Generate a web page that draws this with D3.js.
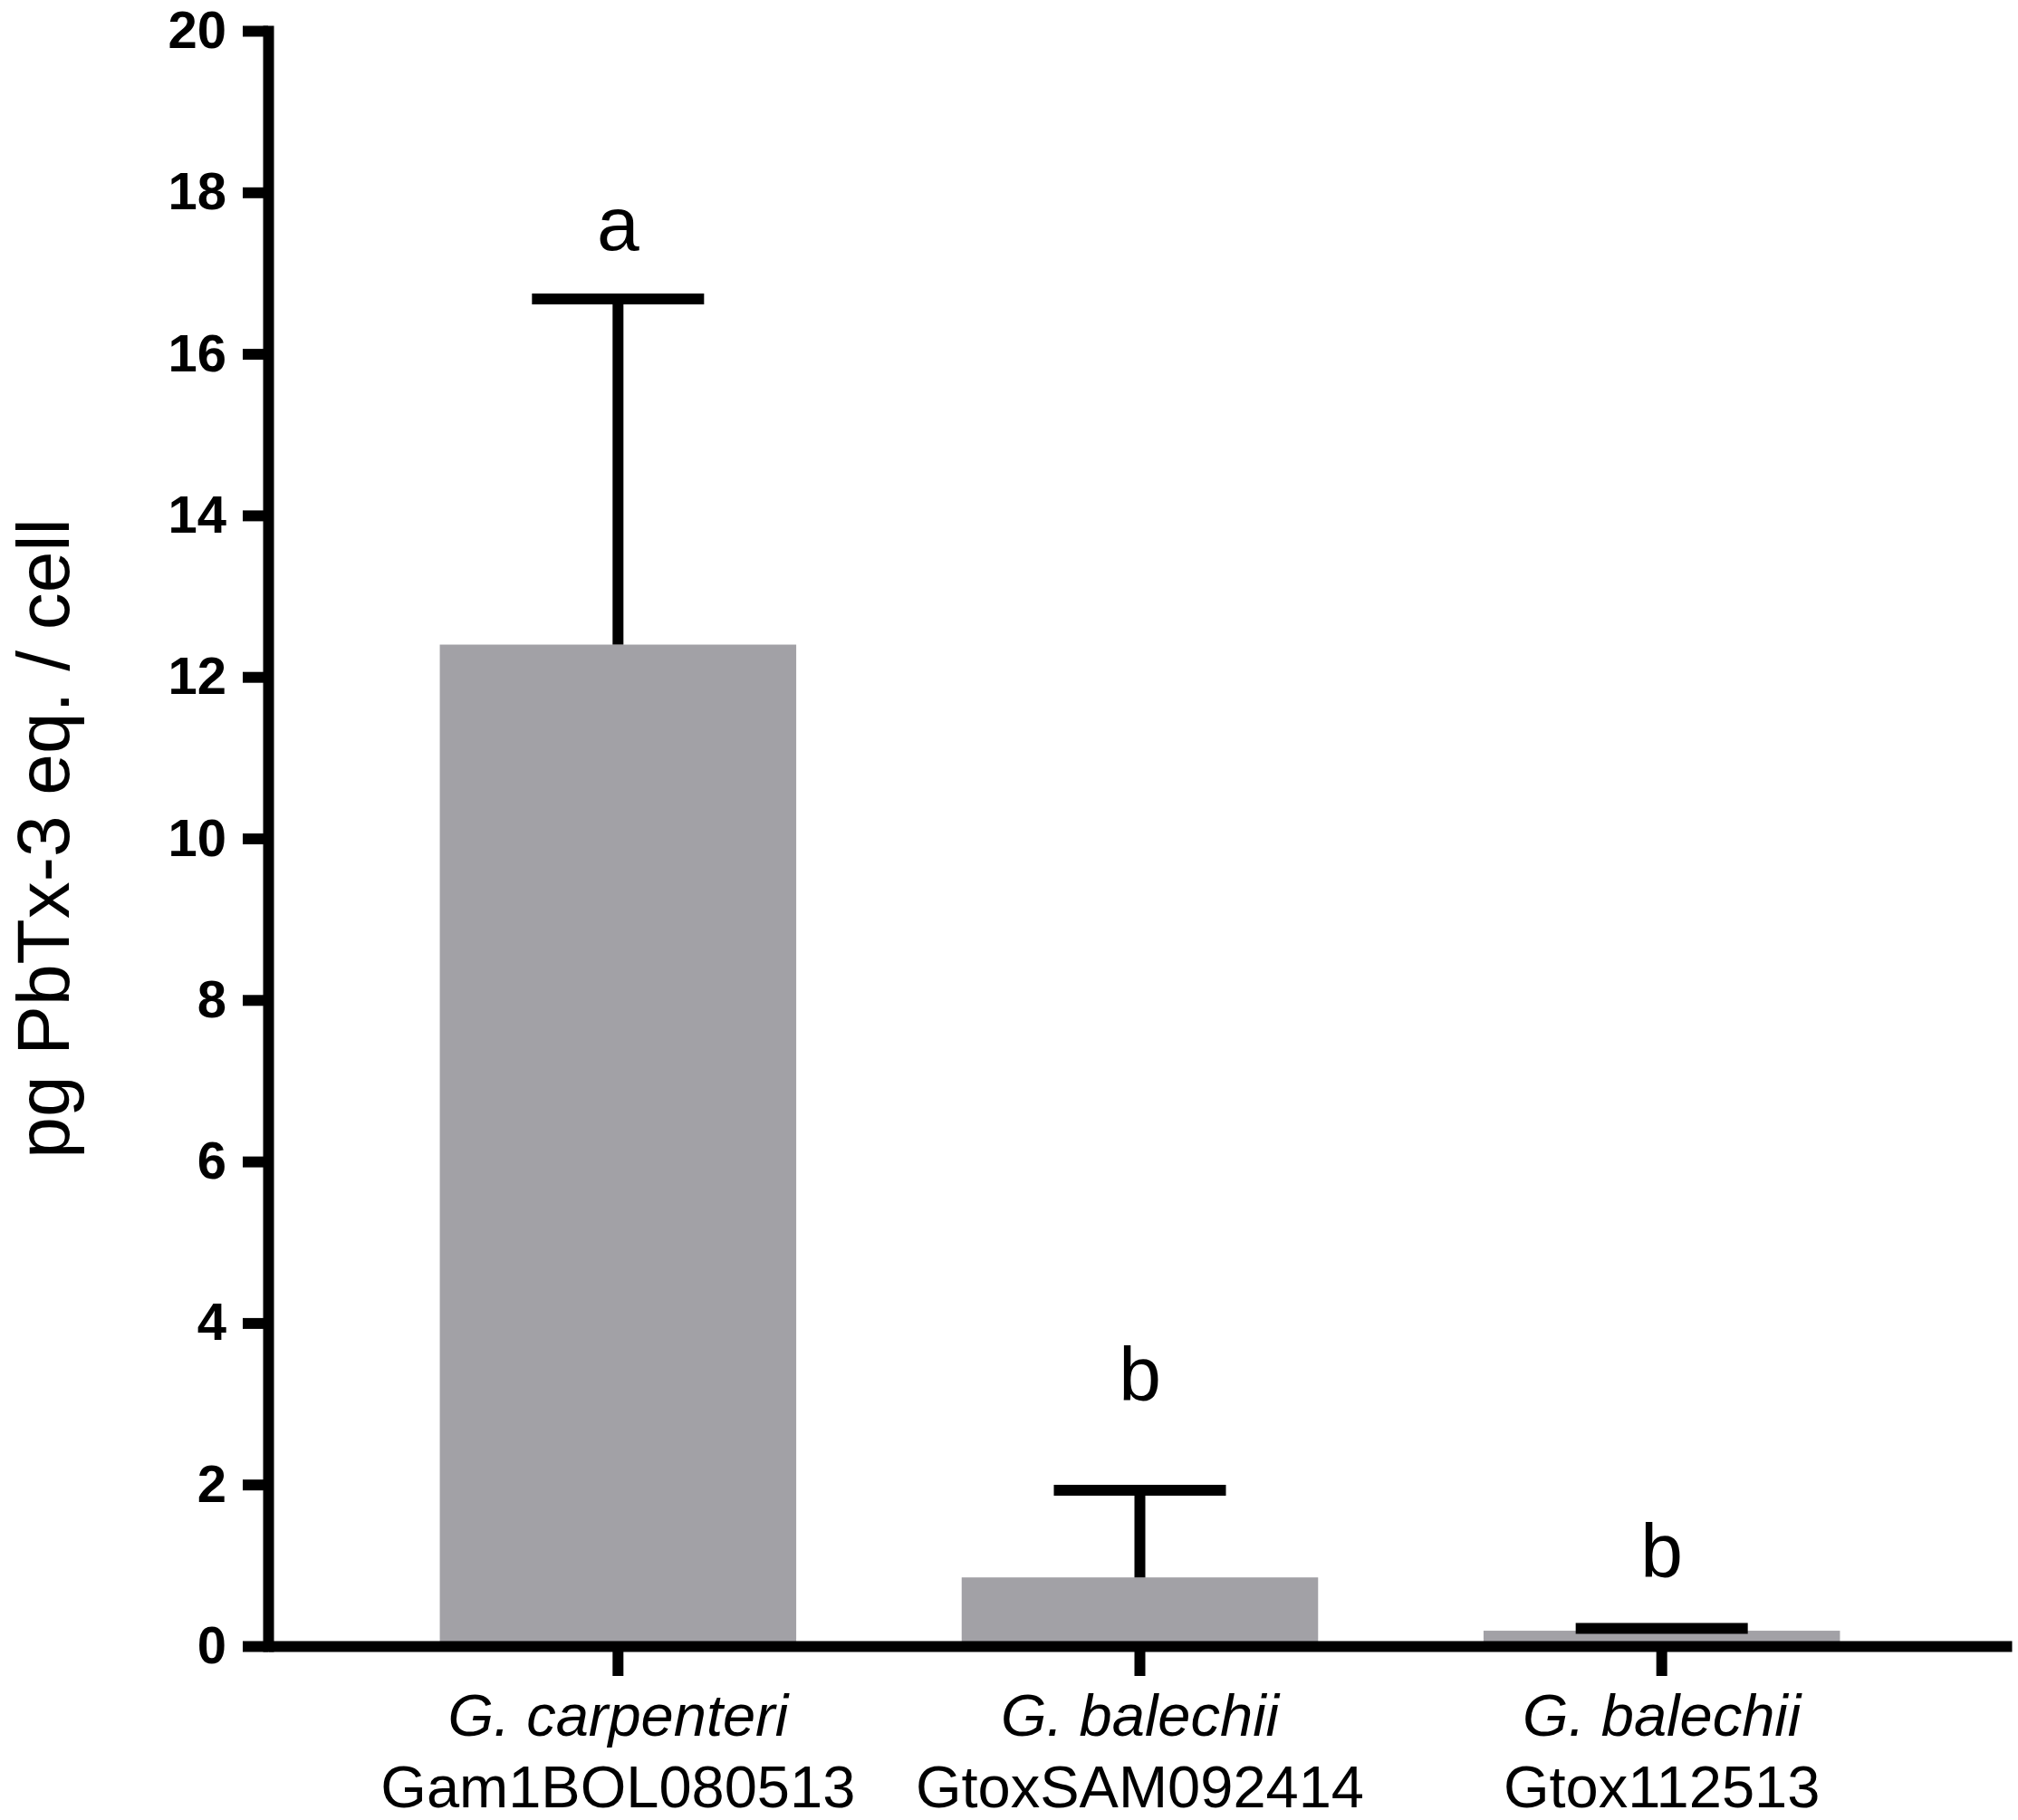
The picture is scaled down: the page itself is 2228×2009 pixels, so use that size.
<!DOCTYPE html>
<html>
<head>
<meta charset="utf-8">
<script src="https://cdn.jsdelivr.net/npm/d3@7"></script>
<style>
  body { margin: 0; background: #fff; }
  svg { display: block; }
</style>
</head>
<body>
<div id="chart"></div>
<script>
// strains on the x axis, with their species on the first line
const strains = ["Gam1BOL080513", "GtoxSAM092414", "Gtox112513"];
const species = ["G. carpenteri", "G. balechii", "G. balechii"];

// pg PbTx-3 eq. / cell, mean and SD
const means = [12.4, 0.85, 0.19];
const sds = [4.28, 1.08, 0.03];

// significance letters and the level (y units) they sit at
const groupLetters = ["a", "b", "b"];
const letterLevels = [17.28, 3.04, 0.85];

const yTicks = [0, 2, 4, 6, 8, 10, 12, 14, 16, 18, 20];

const data = strains.map((s, i) => ({
  strain: s,
  species: species[i],
  mean: means[i],
  sd: sds[i],
  letter: groupLetters[i],
  letterY: letterLevels[i]
}));

const width = 2228;
const height = 2009;
const axisX = 296;
const axisY = 1817;
const font = "'Liberation Sans', Arial, Helvetica, sans-serif";

const svg = d3.select("#chart").append("svg")
  .attr("width", width)
  .attr("height", height)
  .attr("viewBox", [0, 0, width, height])
  .style("font-family", font);

const x = d3.scaleBand()
  .domain(strains)
  .range([axisX, 2221])
  .paddingInner(0.317)
  .paddingOuter(0.329);

const y = d3.scaleLinear()
  .domain([0, 20])
  .range([axisY, 34]);

// Bars
svg.append("g")
  .selectAll("rect")
  .data(data)
  .join("rect")
  .attr("x", d => x(d.strain))
  .attr("y", d => y(d.mean))
  .attr("width", x.bandwidth())
  .attr("height", d => y(0) - y(d.mean))
  .attr("fill", "#a2a1a6");

// Y axis
const yAxis = svg.append("g")
  .attr("transform", `translate(${axisX},0)`)
  .call(d3.axisLeft(y).tickValues(yTicks).tickSize(28).tickSizeOuter(0).tickPadding(18));

yAxis.select(".domain")
  .attr("stroke", "#000")
  .attr("stroke-width", 12)
  .attr("stroke-linecap", "square");
yAxis.selectAll(".tick line")
  .attr("stroke", "#000")
  .attr("stroke-width", 12);
yAxis.selectAll(".tick text")
  .attr("fill", "#000")
  .style("font-family", font)
  .style("font-size", "58px")
  .style("font-weight", "bold");

// X axis
const xAxis = svg.append("g")
  .attr("transform", `translate(0,${axisY})`)
  .call(d3.axisBottom(x).tickSize(33).tickSizeOuter(0).tickFormat(""));

xAxis.select(".domain")
  .attr("stroke", "#000")
  .attr("stroke-width", 12);
xAxis.selectAll(".tick line")
  .attr("stroke", "#000")
  .attr("stroke-width", 12);

// Category labels (species in italics, strain below)
const labels = svg.append("g")
  .selectAll("text")
  .data(data)
  .join("text")
  .attr("text-anchor", "middle")
  .style("font-size", "65px")
  .attr("fill", "#000");

labels.append("tspan")
  .attr("x", d => x(d.strain) + x.bandwidth() / 2)
  .attr("y", 1916)
  .style("font-style", "italic")
  .text(d => d.species);

labels.append("tspan")
  .attr("x", d => x(d.strain) + x.bandwidth() / 2)
  .attr("y", 1995)
  .text(d => d.strain);

// Error bars (upper SD only)
const capHalf = 95;
const err = svg.append("g")
  .attr("stroke", "#000")
  .attr("stroke-width", 12);

err.selectAll("line.stem")
  .data(data)
  .join("line")
  .attr("class", "stem")
  .attr("x1", d => x(d.strain) + x.bandwidth() / 2)
  .attr("x2", d => x(d.strain) + x.bandwidth() / 2)
  .attr("y1", d => y(d.mean))
  .attr("y2", d => y(d.mean + d.sd));

err.selectAll("line.cap")
  .data(data)
  .join("line")
  .attr("class", "cap")
  .attr("x1", d => x(d.strain) + x.bandwidth() / 2 - capHalf)
  .attr("x2", d => x(d.strain) + x.bandwidth() / 2 + capHalf)
  .attr("y1", d => y(d.mean + d.sd))
  .attr("y2", d => y(d.mean + d.sd));

// Significance letters
svg.append("g")
  .selectAll("text")
  .data(data)
  .join("text")
  .attr("x", d => x(d.strain) + x.bandwidth() / 2)
  .attr("y", d => y(d.letterY))
  .attr("text-anchor", "middle")
  .style("font-size", "84px")
  .attr("fill", "#000")
  .text(d => d.letter);

// Y axis title
svg.append("text")
  .attr("transform", `translate(76,${(y(0) + y(20)) / 2}) rotate(-90)`)
  .attr("text-anchor", "middle")
  .style("font-size", "82px")
  .attr("fill", "#000")
  .text("pg PbTx-3 eq. / cell");
</script>
</body>
</html>
